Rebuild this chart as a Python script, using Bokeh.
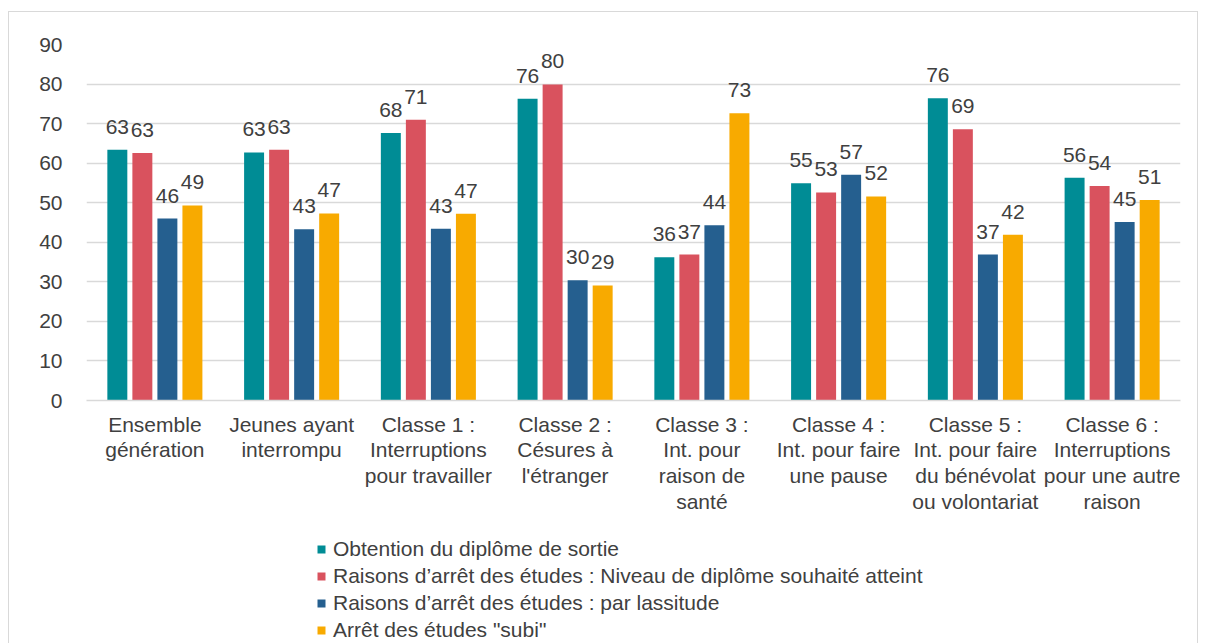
from bokeh.plotting import figure
from bokeh.layouts import column
from bokeh.models import ColumnDataSource, FactorRange, Legend, LegendItem, Range1d, FixedTicker
from bokeh.transform import dodge
from bokeh.core.properties import value
from bokeh.embed import file_html
from bokeh.resources import INLINE

categories = [
    "Ensemble\ngénération",
    "Jeunes ayant\ninterrompu",
    "Classe 1 :\nInterruptions\npour travailler",
    "Classe 2 :\nCésures à\nl'étranger",
    "Classe 3 :\nInt. pour\nraison de\nsanté",
    "Classe 4 :\nInt. pour faire\nune pause",
    "Classe 5 :\nInt. pour faire\ndu bénévolat\nou volontariat",
    "Classe 6 :\nInterruptions\npour une autre\nraison",
]
series_names = [
    "Obtention du diplôme de sortie",
    "Raisons d’arrêt des études : Niveau de diplôme souhaité atteint",
    "Raisons d’arrêt des études : par lassitude",
    "Arrêt des études \"subi\"",
]
obtention = [63.4, 62.7, 67.6, 76.3, 36.2, 54.9, 76.4, 56.3]
niveau = [62.6, 63.4, 71.0, 79.9, 36.9, 52.6, 68.6, 54.2]
lassitude = [46.0, 43.3, 43.4, 30.4, 44.3, 57.1, 36.9, 45.1]
subi = [49.3, 47.3, 47.2, 29.1, 72.6, 51.6, 41.9, 50.7]
y_ticks = [0, 10, 20, 30, 40, 50, 60, 70, 80, 90]

colors = ["#008C95", "#D9525E", "#255F8F", "#F8AA00"]
series = [obtention, niveau, lassitude, subi]
keys = ["s0", "s1", "s2", "s3"]
data = {"cat": categories}
for k, s in zip(keys, series):
    data[k] = s
    data[k + "_lbl"] = [str(int(round(v))) for v in s]
src = ColumnDataSource(data)

FONT = "Liberation Sans"
TXT = "#404040"

W = 1188
p = figure(
    x_range=FactorRange(*categories, range_padding=0),
    y_range=Range1d(0, 90),
    width=W, height=508,
    min_border_left=77, min_border_right=17, min_border_top=32, min_border_bottom=120,
    output_backend="svg", toolbar_location=None,
)
p.outline_line_color = None
p.background_fill_color = "white"
p.border_fill_color = "white"

p.xgrid.grid_line_color = None
p.ygrid.grid_line_color = "#D9D9D9"
p.ygrid.grid_line_width = 1.5
p.yaxis.ticker = FixedTicker(ticks=y_ticks)
p.yaxis.axis_line_color = None
p.yaxis.major_tick_line_color = None
p.yaxis.minor_tick_line_color = None
p.yaxis.major_label_text_font = FONT
p.yaxis.major_label_text_font_size = "21px"
p.yaxis.major_label_text_color = TXT
p.yaxis.major_label_standoff = 18

p.xaxis.axis_line_color = "#D9D9D9"
p.xaxis.axis_line_width = 1.5
p.xaxis.major_tick_line_color = None
p.xaxis.minor_tick_line_color = None
p.xaxis.major_label_text_font = FONT
p.xaxis.major_label_text_font_size = "21px"
p.xaxis.major_label_text_color = TXT
p.xaxis.major_label_text_line_height = 1.12
p.xaxis.major_label_standoff = 6

step = 0.183
bw = 0.146
offsets = [-1.5 * step, -0.5 * step, 0.5 * step, 1.5 * step]
for k, c, off in zip(keys, colors, offsets):
    p.vbar(x=dodge("cat", off, range=p.x_range), top=k, width=bw, source=src,
           fill_color=c, line_color=None)
    p.text(x=dodge("cat", off, range=p.x_range), y=k, text=k + "_lbl", source=src,
           text_font=value(FONT), text_font_size="21px", text_color=TXT,
           text_align="center", text_baseline="bottom", y_offset=-16)

# legend panel
lf = figure(width=W, height=123, x_range=Range1d(0, 1), y_range=Range1d(0, 1),
            min_border=0, output_backend="svg", toolbar_location=None)
lf.axis.visible = False
lf.grid.visible = False
lf.outline_line_color = None
lf.border_fill_color = "white"
items = []
for c, name in zip(colors, series_names):
    r = lf.vbar(x=[0.5], top=[0.5], bottom=[0.5], width=0.0, fill_color=c, line_color=None)
    items.append(LegendItem(label=name, renderers=[r]))

legend = Legend(items=items, location=(230, 1), orientation="vertical")
legend.padding = 0
legend.margin = 0
legend.border_line_color = None
legend.background_fill_alpha = 0
legend.glyph_width = 10
legend.glyph_height = 10
legend.label_standoff = 7
legend.label_height = 20
legend.spacing = 3
legend.label_text_font = FONT
legend.label_text_font_size = "21px"
legend.label_text_color = TXT
lf.add_layout(legend, "center")

layout = column(p, lf, spacing=0)
layout.styles = {"border": "1px solid #d9d9d9", "margin-left": "8px", "margin-top": "11px"}

open("out.html", "w").write(file_html(layout, INLINE))
